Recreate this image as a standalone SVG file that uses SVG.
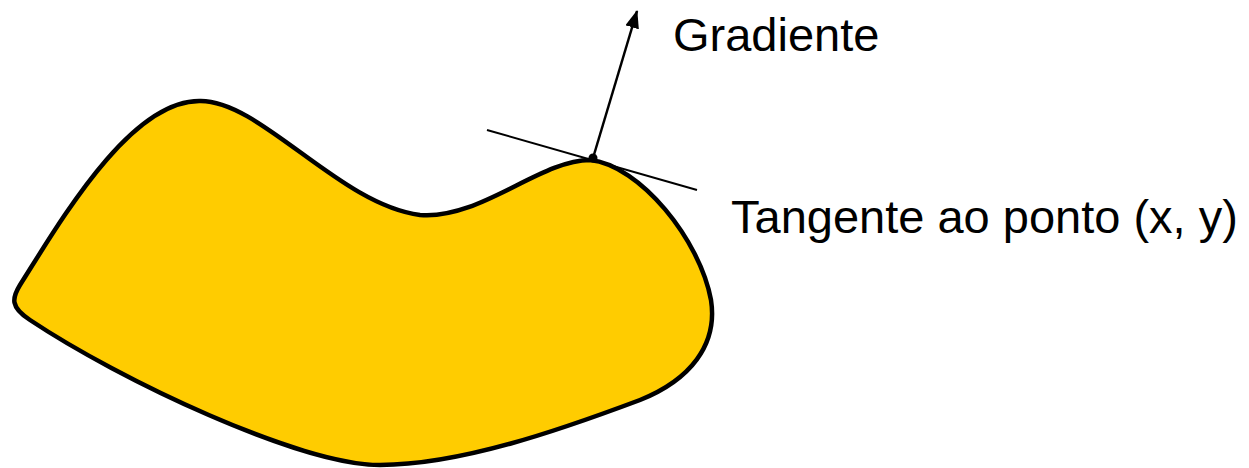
<svg xmlns="http://www.w3.org/2000/svg" width="1249" height="468" viewBox="0 0 1249 468">
<style>
.lbl{font-family:"Liberation Sans",Arial,sans-serif;font-size:47px;fill:#000}
.ln{stroke:#000;fill:none}
</style>
<defs>
<marker id="ahb" viewBox="0 0 18 14" refX="17" refY="7" markerWidth="18" markerHeight="14" orient="auto" markerUnits="userSpaceOnUse">
<path d="M0,0 L18,7 L0,14 z" fill="#000"/>
</marker>
</defs>
<g id="shape">
<path d="M200,101 C260,100 340,205 420,215 C480,220 540,160 590,160 C640,165 700,240 711,300 C718,345 690,380 640,400 C560,430 460,465 380,465 C300,465 120,380 30,320 C10,307 12,298 20,285 C60,222 130,100 200,101 Z" fill="#FFCC00" stroke="#000" stroke-width="4.5"/>
</g>
<g id="connectors">
<line id="tangent" class="ln" x1="487" y1="130" x2="697" y2="190" stroke-width="2"/>
<line id="gradient" class="ln" x1="593" y1="158" x2="637" y2="11" stroke-width="2.5" marker-end="url(#ahb)"/>
<circle cx="593" cy="158" r="4.5" fill="#000"/>
</g>
<g id="label-gradiente"><text class="lbl" x="673" y="51">Gradiente</text></g>
<g id="label-tangente"><text class="lbl" x="731" y="233">Tangente ao ponto (x, y)</text></g>
</svg>
